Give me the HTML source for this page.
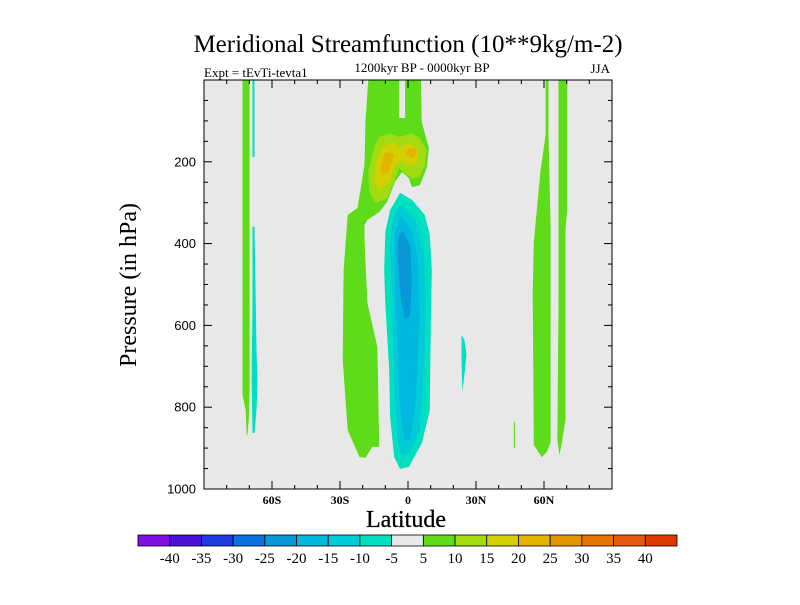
<!DOCTYPE html>
<html><head><meta charset="utf-8"><style>
body{margin:0;background:#fff;}
svg text{font-family:"Liberation Serif",serif;fill:#000;}
</style></head><body>
<svg id="c" width="800" height="600" xmlns="http://www.w3.org/2000/svg">
<text x="408" y="52" font-size="25" text-anchor="middle">Meridional Streamfunction (10**9kg/m-2)</text>
<text x="422" y="72" font-size="13" text-anchor="middle">1200kyr BP - 0000kyr BP</text>
<text x="204" y="77" font-size="13">Expt = tEvTi-tevta1</text>
<text x="610" y="73" font-size="13" text-anchor="end">JJA</text>
<rect x="204" y="80" width="408" height="409" fill="#e8e8e8"/>
<g id="marks"></g>
<g id="axes"></g>
<rect x="204" y="80" width="408" height="409" fill="none" stroke="#000" stroke-width="1"/>
<text x="406" y="527" font-size="24" text-anchor="middle" stroke="#000" stroke-width="0.3">Latitude</text>
<text transform="translate(136,285) rotate(-90)" font-size="24" text-anchor="middle">Pressure (in hPa)</text>
<g id="cbar"></g>
</svg>
<script>
const levelLabels=["-40","-35","-30","-25","-20","-15","-10","-5","5","10","15","20","25","30","35","40"];
const levelColors=["#7f10e0","#4a10d8","#1e3adf","#0a70dd","#0898d8","#00b8de","#00ccd8","#00dfc0","#e8e8e8","#5fdc19","#a0dc10","#d2d000","#e4b200","#e49600","#e47400","#e45a10","#e03a00"];
const xTicks=[-60,-30,0,30,60];
const xTickLabels=["60S","30S","0","30N","60N"];
const yTicks=[200,400,600,800,1000];
const greenMain=[[-17.5,0],[-3.9,0],[-3.9,93],[-1.3,93],[-1.3,0],[5.7,0],[6.1,103],[9.2,166],[8.3,215],[5.2,257],[1.7,262],[0.4,240],[-2.6,225],[-5.7,249],[-9.2,298],[-12.7,323],[-17.9,342],[-19.2,355],[-19.2,391],[-17.9,545],[-13.5,653],[-12.7,897],[-15.7,897],[-18.8,924],[-21.4,922],[-26.6,856],[-28.8,685],[-28.4,465],[-26.6,330],[-22.3,313],[-19.2,208],[-18.8,103]];
const ygreen=[[-12.7,139],[-7.9,130],[-3.9,139],[1.7,130],[5.2,142],[8.3,171],[7.4,208],[5.2,237],[1.7,240],[-1.7,227],[-3.9,215],[-6.1,249],[-9.2,289],[-14.4,301],[-17.0,274],[-17.5,225],[-14.9,164]];
const yellow=[[-11.4,164],[-7.0,154],[-3.9,164],[0.9,154],[4.8,171],[3.9,203],[0.9,208],[-3.5,196],[-6.1,215],[-8.3,249],[-12.2,269],[-14.9,249],[-14.4,203]];
const orangeL=[[-10.0,176],[-6.1,183],[-8.3,225],[-11.4,232],[-12.2,215]];
const orangeR=[[-0.4,171],[2.6,164],[4.4,178],[1.7,191],[-0.9,183]];
const neg5=[[-3.5,276],[1.7,293],[7.4,330],[9.6,379],[10.5,465],[10.0,611],[9.6,807],[6.1,888],[0.4,946],[-3.5,951],[-6.1,922],[-7.9,824],[-8.3,709],[-10.0,545],[-10.5,465],[-10.0,372],[-7.9,318]];
const neg10=[[-3.5,306],[3.9,347],[7.0,416],[7.9,538],[7.0,734],[5.2,856],[0.9,910],[-2.6,917],[-4.8,880],[-6.1,734],[-7.0,538],[-7.9,416],[-7.0,342]];
const neg15=[[-3.5,330],[1.7,367],[4.4,440],[5.2,587],[3.5,782],[0.9,880],[-1.7,880],[-3.9,782],[-5.2,587],[-6.1,440],[-5.7,367]];
const neg20=[[-2.6,367],[0.9,403],[1.7,489],[0.9,575],[-1.3,587],[-3.1,538],[-4.4,440],[-4.4,391]];
const cyanNH=[[23.6,623],[24.9,636],[25.8,672],[24.9,721],[24.0,763],[23.6,685]];
const stripA=[[60.7,0],[62.0,0],[62.0,134],[62.9,355],[62.9,885],[61.2,910],[59.0,922],[55.5,892],[55.0,518],[55.5,396],[58.5,220],[60.7,134]];
const stripB=[[66.4,0],[70.3,0],[70.3,313],[69.5,367],[69.5,831],[67.7,892],[66.8,917],[65.9,880],[66.4,538]];
const stripTiny=[[46.7,836],[47.2,836],[47.2,900],[46.7,900]];
const leftGreen=[[-73.0,0],[-69.9,0],[-69.9,770],[-70.3,831],[-70.8,868],[-71.2,868],[-71.6,807],[-73.0,770]];
const leftCyan1=[[-68.6,0],[-67.7,0],[-67.7,188],[-68.6,188]];
const leftCyan2=[[-68.6,359],[-67.7,359],[-66.8,672],[-66.4,734],[-66.8,802],[-67.7,863],[-68.6,863],[-69.0,734],[-68.6,538]];
const regions=[[9,greenMain,"green-main"],[10,ygreen,"contour-10"],[11,yellow,"contour-15"],[12,orangeL,"contour-20-left"],[12,orangeR,"contour-20-right"],[7,neg5,"contour-neg5"],[6,neg10,"contour-neg10"],[5,neg15,"contour-neg15"],[4,neg20,"contour-neg20"],[7,cyanNH,"contour-neg5-nh"],[9,stripA,"green-strip-60n"],[9,stripB,"green-strip-70n"],[9,stripTiny,"green-strip-47n"],[9,leftGreen,"green-strip-70s"],[7,leftCyan1,"cyan-strip-68s-upper"],[7,leftCyan2,"cyan-strip-68s-lower"]];
const X0=204,X1=612,Y0=80,Y1=489;
const xs=lat=>X0+(lat+90)/180*(X1-X0);
const ys=p=>Y0+p/1000*(Y1-Y0);
const NS="http://www.w3.org/2000/svg";
const mk=(t,a,par)=>{const e=document.createElementNS(NS,t);for(const k in a)e.setAttribute(k,a[k]);par.appendChild(e);return e;};
const marks=document.getElementById('marks');
regions.forEach(r=>{
 const pts=r[1].map(d=>xs(d[0]).toFixed(1)+","+ys(d[1]).toFixed(1)).join(" ");
 const el=mk('polygon',{points:pts,fill:levelColors[r[0]]},marks);
 
 
});
const ax=document.getElementById('axes');
for(let lat=-90;lat<=90;lat+=10){
 const major=lat%30===0, L=major?8:4;
 mk('line',{x1:xs(lat),x2:xs(lat),y1:Y1,y2:Y1-L,stroke:"#000"},ax);
 mk('line',{x1:xs(lat),x2:xs(lat),y1:Y0,y2:Y0+L,stroke:"#000"},ax);
}
for(let p=0;p<=1000;p+=50){
 const major=p%200===0, L=major?8:4;
 mk('line',{x1:X0,x2:X0+L,y1:ys(p),y2:ys(p),stroke:"#000"},ax);
 mk('line',{x1:X1,x2:X1-L,y1:ys(p),y2:ys(p),stroke:"#000"},ax);
}
xTicks.forEach((v,i)=>{const t=mk('text',{x:xs(v),y:504,"font-size":12,"font-weight":"bold","text-anchor":"middle"},ax);t.textContent=xTickLabels[i];
 
 });
yTicks.forEach(v=>{const t=mk('text',{x:196,y:ys(v)+4.5,"font-size":13,"text-anchor":"end",style:"font-family:'Liberation Sans',sans-serif"},ax);t.textContent=v;
 
 });
const cb=document.getElementById('cbar');
const cx0=138,cx1=677,bw=(cx1-cx0)/levelColors.length;
levelColors.forEach((c,i)=>{const r=mk('rect',{x:cx0+i*bw,y:535,width:bw,height:11,fill:c,stroke:"#000","stroke-width":0.8},cb);
 
 });
levelLabels.forEach((l,i)=>{const t=mk('text',{x:cx0+(i+1)*bw,y:563,"font-size":15,"text-anchor":"middle"},cb);t.textContent=l;
 
 });
</script>
</body></html>
